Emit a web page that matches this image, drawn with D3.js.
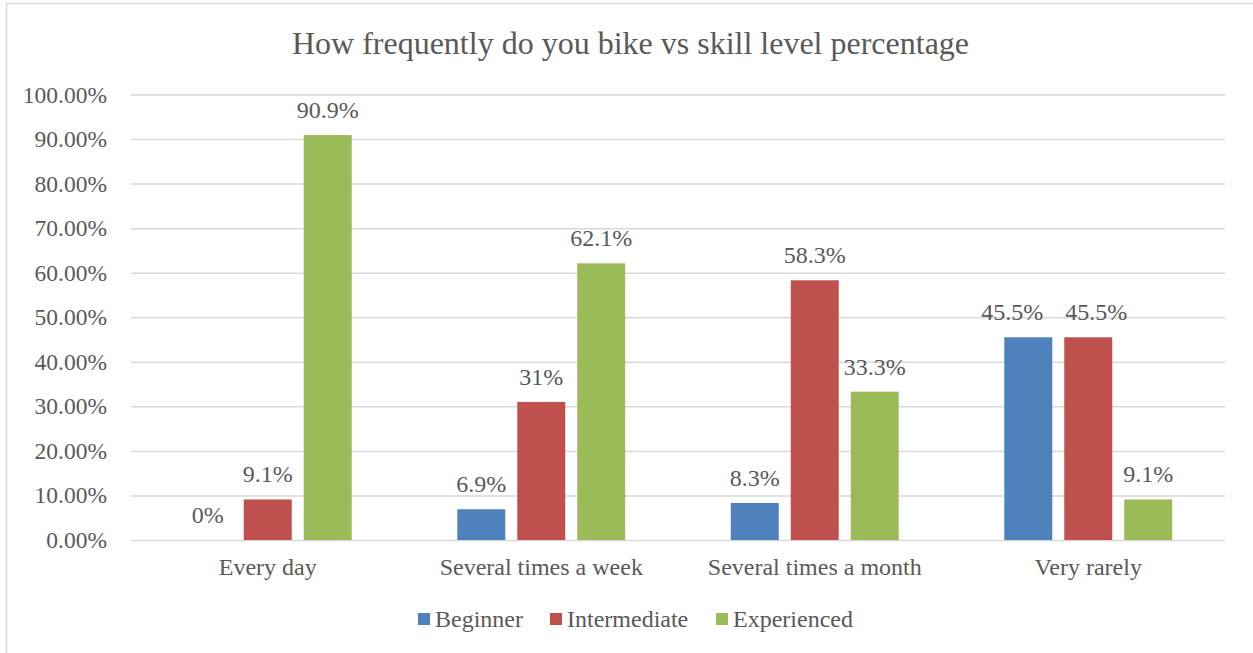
<!DOCTYPE html>
<html>
<head>
<meta charset="utf-8">
<script src="https://cdn.jsdelivr.net/npm/d3@7"></script>
<style>
  body { margin: 0; background: #fff; }
  text { font-family: "Liberation Serif", "Times New Roman", serif; fill: #595959; }
</style>
</head>
<body>
<svg id="chart" width="1253" height="653"></svg>
<script>
const categories = ["Every day", "Several times a week", "Several times a month", "Very rarely"];
const seriesNames = ["Beginner", "Intermediate", "Experienced"];
const beginner = [0, 6.9, 8.3, 45.5];
const intermediate = [9.1, 31, 58.3, 45.5];
const experienced = [90.9, 62.1, 33.3, 9.1];
const yTicks = [0, 10, 20, 30, 40, 50, 60, 70, 80, 90, 100];
const colors = ["#4F81BD", "#C0504D", "#9BBB59"];

const seriesValues = [beginner, intermediate, experienced];
const data = categories.map((c, i) => ({
  category: c,
  values: seriesNames.map((s, j) => ({ series: s, value: seriesValues[j][i] }))
}));

// labels nudged sideways where they would collide (as Excel does)
const labelShift = { "Very rarely": [-16, 8, 0] };

const svg = d3.select("#chart");
const margin = { left: 131, right: 28, top: 94.5, bottom: 113 };
const width = 1253, height = 653;

// chart border
svg.append("rect")
  .attr("x", 6.5).attr("y", 3.5)
  .attr("width", 1280).attr("height", 680)
  .attr("fill", "none")
  .attr("stroke", "#D9D9D9")
  .attr("stroke-width", 1.5);

svg.append("text")
  .attr("x", 630.5).attr("y", 54)
  .attr("text-anchor", "middle")
  .style("font-size", "32px")
  .text("How frequently do you bike vs skill level percentage");

const x0 = d3.scaleBand()
  .domain(categories)
  .range([margin.left, width - margin.right]);

const y = d3.scaleLinear()
  .domain([0, 100])
  .range([height - margin.bottom, margin.top]);

const groupHalf = x0.bandwidth() * 0.307;
const x1 = d3.scaleBand()
  .domain(seriesNames)
  .range([x0.bandwidth() / 2 - groupHalf, x0.bandwidth() / 2 + groupHalf])
  .paddingInner(0.2);

const color = d3.scaleOrdinal().domain(seriesNames).range(colors);

// gridlines + y labels
const yAxis = svg.append("g")
  .attr("transform", `translate(${margin.left},0)`)
  .call(d3.axisLeft(y)
    .tickValues(yTicks)
    .tickSize(-(width - margin.left - margin.right))
    .tickPadding(24)
    .tickFormat(d => d3.format(".2f")(d) + "%"));
yAxis.select(".domain").remove();
yAxis.selectAll(".tick line").attr("stroke", "#D9D9D9").attr("stroke-width", 1.5);
yAxis.selectAll(".tick text")
  .style("font-size", "23.5px")
  .attr("fill", "#595959")
  .attr("font-family", "Liberation Serif");

// bars
const groups = svg.selectAll(".group")
  .data(data)
  .enter().append("g")
  .attr("class", "group")
  .attr("transform", d => `translate(${x0(d.category)},0)`);

groups.selectAll("rect")
  .data(d => d.values)
  .enter().append("rect")
  .attr("x", d => x1(d.series))
  .attr("y", d => y(d.value))
  .attr("width", x1.bandwidth())
  .attr("height", d => y(0) - y(d.value))
  .attr("fill", d => color(d.series));

groups.each(function(g) {
  const shift = labelShift[g.category] || [0, 0, 0];
  d3.select(this).selectAll(".label")
    .data(g.values)
    .enter().append("text")
    .attr("class", "label")
    .attr("x", (d, i) => x1(d.series) + x1.bandwidth() / 2 + shift[i])
    .attr("y", d => y(d.value) - 17)
    .attr("text-anchor", "middle")
    .style("font-size", "24px")
    .text(d => d.value + "%");
});

// x labels
const xAxis = svg.append("g")
  .attr("transform", `translate(0,${y(0)})`)
  .call(d3.axisBottom(x0).tickSize(0).tickPadding(18));
xAxis.select(".domain").remove();
xAxis.selectAll(".tick text")
  .style("font-size", "24px")
  .attr("fill", "#595959")
  .attr("font-family", "Liberation Serif");

// legend
const legendX = [418, 550, 716];
const legend = svg.selectAll(".legend")
  .data(seriesNames)
  .enter().append("g")
  .attr("class", "legend")
  .attr("transform", (d, i) => `translate(${legendX[i]},613)`);
legend.append("rect")
  .attr("width", 12).attr("height", 12)
  .attr("fill", d => color(d));
legend.append("text")
  .attr("x", 17).attr("y", 14)
  .style("font-size", "24px")
  .text(d => d);
</script>
</body>
</html>
